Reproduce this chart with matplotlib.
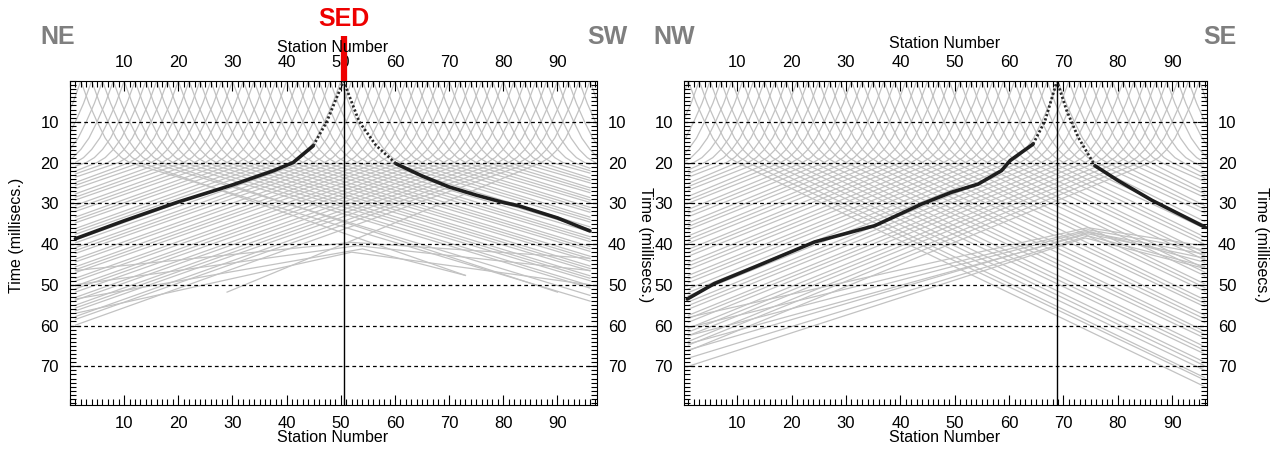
import matplotlib
matplotlib.use("Agg")
import matplotlib.pyplot as plt
from matplotlib import font_manager
from matplotlib.ticker import MultipleLocator

installed = {f.name for f in font_manager.fontManager.ttflist}
NARROW = "Liberation Sans Narrow" if "Liberation Sans Narrow" in installed else "Liberation Sans"
BOLD = "Liberation Sans"

# near-offset shape of every first-arrival curve (stations from shot, ms)
near_off = [0, 1.5, 3, 4.5, 6, 7.5, 9]
near_ms = [0, 5.5, 10, 14, 16.8, 18.8, 20]

# ---- NE-SW line ----
ne_shots = [2, 4, 6, 8, 10, 12, 14, 16, 18, 20, 22, 24, 26, 28, 30, 32, 34, 36, 38, 40,
            42, 44, 46, 48, 50, 52, 54, 56, 58, 60, 62, 64, 66, 68, 70, 72, 74, 76, 78, 80,
            82, 84, 86, 88, 90, 92, 94, 96]
# time at station 1 (None where the steep part already reaches the edge)
ne_left_ms = [None, None, None, None, None, 20.9, 22.1, 22.8, 23.6, 24.9, 25.6, 26.4, 27.7, 28.5,
              29.2, 30.5, 31.3, 32.0, 33.4, 34.1, 34.8, 36.2, 36.9, 37.6, 39.0, 39.7, 40.9,
              41.6, 42.3, 43.7, 44.4, 45.6, 46.3, 47.0, 48.4, 49.1, 50.3, 51.0, 51.8, 53.1,
              53.8, 55.0, 55.7, 56.4, 57.8, 58.5, 59.9, 61.8]
# time at station 96
ne_right_ms = [54.0, 53.0, 52.6, 51.4, 50.8, 50.2, 49.0, 48.4, 47.8, 46.6, 46.0, 45.4, 44.2,
               43.6, 43.0, 41.8, 41.2, 40.6, 39.4, 38.8, 38.2, 37.0, 36.4, 35.8, 34.6, 34.0,
               33.4, 32.2, 31.6, 31.0, 29.8, 29.2, 28.6, 27.4, 26.8, 26.2, 25.0, 24.4, 23.8,
               22.6, 22.0, 21.4, 20.4, None, None, None, None, None]
# branches whose picks stop short of the end of the line: shot -> (station, ms)
ne_right_cut = {4: (73, 47.7), 8: (90, 51.8)}
ne_left_cut = {96: (29, 51.8)}
# arrivals from the crossing line
ne_cross_left_ms = [46.5, 50.0, 53.5, 57.0]
ne_cross_apex_sta = [52, 53, 54, 52]
ne_cross_apex_ms = [39.6, 40.4, 41.2, 42.0]
ne_cross_right_sta = [96, 96, 73, 96]
ne_cross_right_ms = [43.5, 46.5, 47.7, 50.0]
# SED shot
ne_sed_sta = 50.5
ne_black_sta = [1, 10, 19.7, 30, 37.6, 41.2, 44.9, 47.4, 50.5, 53.4, 56.5, 60.2, 65, 70, 75,
                80, 82.8, 90, 96]
ne_black_ms = [38.7, 34.3, 29.8, 25.5, 22.0, 20.0, 15.9, 10.0, 0.0, 10.0, 15.8, 20.3, 23.3,
               26.0, 28.0, 29.8, 30.6, 33.6, 36.8]
ne_near = (44.9, 60.2)

# ---- NW-SE line ----
nw_shots = [1, 3, 5, 7, 9, 11, 13, 15, 17, 19, 21, 23, 25, 27, 29, 31, 33, 35, 37, 39,
            41, 43, 45, 47, 49, 51, 53, 55, 57, 59, 61, 63, 65, 67, 69, 71, 73, 75, 77, 79,
            81, 83, 85, 87, 89, 91, 93, 95]
nw_left_ms = [None, None, None, None, None, 20.5, 21.8, 22.7, 23.6, 25.1, 25.9, 26.8, 28.3,
              29.2, 30.0, 31.5, 32.4, 33.3, 34.8, 35.7, 36.5, 38.0, 38.9, 39.8, 41.3, 42.1,
              43.0, 44.5, 45.4, 46.3, 47.7, 48.6, 49.5, 51.0, 51.9, 52.7, 54.2, 55.1, 56.0,
              57.5, 58.3, 59.2, 60.7, 61.6, 62.5, 63.9, 64.8, 66.2]
nw_right_ms = [75.0, 73.4, 72.8, 71.0, 69.9, 69.0, 67.0, 66.1, 65.2, 63.1, 62.2, 61.4, 59.3,
               58.4, 57.5, 55.4, 54.6, 53.7, 51.6, 50.7, 49.8, 47.8, 46.9, 46.0, 43.9, 43.0,
               42.2, 40.1, 39.2, 38.3, 36.2, 35.4, 34.5, 32.4, 31.5, 30.6, 28.6, 27.7, 26.8,
               24.7, 23.8, 22.9, 21.3, None, None, None, None, None]
nw_right_cut = {}
nw_left_cut = {}
nw_cross_left_ms = [58.0, 60.5, 62.5, 64.5, 66.0, 68.0, 70.0]
nw_cross_apex_sta = [74.5, 74.5, 74.0, 74.5, 75.0, 74.5, 74.0]
nw_cross_apex_ms = [36.0, 36.5, 37.0, 37.5, 37.0, 38.0, 38.5]
nw_cross_right_sta = [96, 96, 96, 96, 96, 96, 96]
nw_cross_right_ms = [40.5, 41.5, 42.5, 43.5, 44.5, 45.5, 46.0]
nw_sed_sta = 68.8
nw_black_sta = [0.8, 5.8, 13.1, 24.2, 35.3, 43.9, 49.4, 54.3, 58.6, 60.2, 64.4, 66.6, 68.8,
                70.6, 72.7, 75.8, 80, 86.3, 91.2, 96.1]
nw_black_ms = [53.5, 49.7, 45.7, 39.5, 35.5, 30.2, 27.3, 25.3, 22.0, 19.5, 15.5, 9.8, 0.0,
               7.3, 13.8, 20.8, 24.4, 29.3, 32.6, 35.9]
nw_near = (64.4, 75.8)

GRAY = "#c2c2c2"
W, H = 1277, 449


def fx(x):
    return x / W


def fy(y):
    return 1 - y / H


def draw_panel(ax, shots, left_ms, right_ms, left_cut, right_cut, first, last,
               cx_left, cx_apex_sta, cx_apex_ms, cx_right_sta, cx_right_ms,
               b_sta, b_ms, near, sed):
    for s, lt, rt in zip(shots, left_ms, right_ms):
        # left branch
        xs = [s - o for o in near_off]
        ys = list(near_ms)
        if s in left_cut:
            xs.append(left_cut[s][0]); ys.append(left_cut[s][1])
        elif lt is not None:
            xs.append(first); ys.append(lt)
        ax.plot(xs, ys, color=GRAY, lw=0.9, zorder=1)
        # right branch
        xs = [s + o for o in near_off]
        ys = list(near_ms)
        if s in right_cut:
            xs.append(right_cut[s][0]); ys.append(right_cut[s][1])
        elif rt is not None:
            xs.append(last); ys.append(rt)
        ax.plot(xs, ys, color=GRAY, lw=0.9, zorder=1)

    for lt, asta, ams, rsta, rms in zip(cx_left, cx_apex_sta, cx_apex_ms, cx_right_sta, cx_right_ms):
        ax.plot([first, asta, rsta], [lt, ams, rms], color=GRAY, lw=0.9, zorder=1)

    for t in range(10, 80, 10):
        ax.axhline(t, color="black", lw=0.9, ls=(0, (3, 2.5)), zorder=2)

    # SED shot curve: dotted near the source, heavy beyond
    lo, hi = near
    far_l = [(x, y) for x, y in zip(b_sta, b_ms) if x <= lo]
    mid = [(x, y) for x, y in zip(b_sta, b_ms) if lo <= x <= hi]
    far_r = [(x, y) for x, y in zip(b_sta, b_ms) if x >= hi]
    for seg in (far_l, far_r):
        ax.plot([p[0] for p in seg], [p[1] for p in seg], color="#1e1e1e", lw=2.6,
                solid_capstyle="round", zorder=4)
    ax.plot([p[0] for p in mid], [p[1] for p in mid], color="#2a2a2a", lw=2.0,
            ls=(0, (0.8, 0.8)), zorder=4)

    ax.axvline(sed, color="black", lw=1.0, zorder=5)

    ax.set_ylim(79.5, 0)
    ax.xaxis.set_major_locator(MultipleLocator(10))
    ax.xaxis.set_minor_locator(MultipleLocator(1))
    ax.yaxis.set_major_locator(MultipleLocator(10))
    ax.yaxis.set_minor_locator(MultipleLocator(1))
    ax.tick_params(which="both", direction="in", top=True, bottom=True, left=True, right=True,
                   labeltop=True, labelbottom=True, labelleft=True, labelright=True,
                   colors="black", width=0.8)
    ax.tick_params(which="major", length=7, labelsize=12, pad=8)
    ax.tick_params(which="minor", length=4)
    ax.set_xticks(range(10, 100, 10))
    ax.set_yticks(range(10, 80, 10))
    for lab in ax.get_xticklabels() + ax.get_yticklabels():
        lab.set_fontfamily(NARROW)
    for sp in ax.spines.values():
        sp.set_linewidth(0.8)


plt.rcParams["font.family"] = [NARROW, "DejaVu Sans"]
fig = plt.figure(figsize=(W / 100, H / 100), dpi=100)

ax1 = fig.add_axes([fx(70), fy(405), fx(597) - fx(70), fy(81) - fy(405)])
draw_panel(ax1, ne_shots, ne_left_ms, ne_right_ms, ne_left_cut, ne_right_cut, 1, 96,
           ne_cross_left_ms, ne_cross_apex_sta, ne_cross_apex_ms, ne_cross_right_sta,
           ne_cross_right_ms, ne_black_sta, ne_black_ms, ne_near, ne_sed_sta)
ax1.set_xlim(0, 97.3)

ax2 = fig.add_axes([fx(684), fy(405), fx(1207) - fx(684), fy(81) - fy(405)])
draw_panel(ax2, nw_shots, nw_left_ms, nw_right_ms, nw_left_cut, nw_right_cut, 1, 96,
           nw_cross_left_ms, nw_cross_apex_sta, nw_cross_apex_ms, nw_cross_right_sta,
           nw_cross_right_ms, nw_black_sta, nw_black_ms, nw_near, nw_sed_sta)
ax2.set_xlim(0.2, 96.4)

lab_kw = dict(fontsize=11.5, family=NARROW, ha="center", va="center")
fig.text(fx(333), fy(47), "Station Number", **lab_kw)
fig.text(fx(333), fy(438), "Station Number", **lab_kw)
fig.text(fx(945), fy(44), "Station Number", **lab_kw)
fig.text(fx(945), fy(438), "Station Number", **lab_kw)
fig.text(fx(17), fy(235), "Time (millisecs.)", rotation=90, **lab_kw)
fig.text(fx(645), fy(245), "Time (millisecs.)", rotation=270, **lab_kw)
fig.text(fx(1262), fy(245), "Time (millisecs.)", rotation=270, **lab_kw)

dir_kw = dict(fontsize=18, fontweight="bold", family=BOLD, color="#7f7f7f", va="baseline")
fig.text(fx(40), fy(44.5), "NE", ha="left", **dir_kw)
fig.text(fx(628), fy(44.5), "SW", ha="right", **dir_kw)
fig.text(fx(653), fy(44.5), "NW", ha="left", **dir_kw)
fig.text(fx(1237), fy(44.5), "SE", ha="right", **dir_kw)

# SED marker above the NE-SW section
ax1.plot([ne_sed_sta, ne_sed_sta], [0, -11], color="#ee0000", lw=4.5,
         solid_capstyle="butt", clip_on=False, zorder=6)
ax1.text(ne_sed_sta, -12.2, "SED", color="#ee0000", fontsize=18, fontweight="bold",
         family=BOLD, ha="center", va="bottom", clip_on=False)

fig.savefig("out.png", dpi=100)
